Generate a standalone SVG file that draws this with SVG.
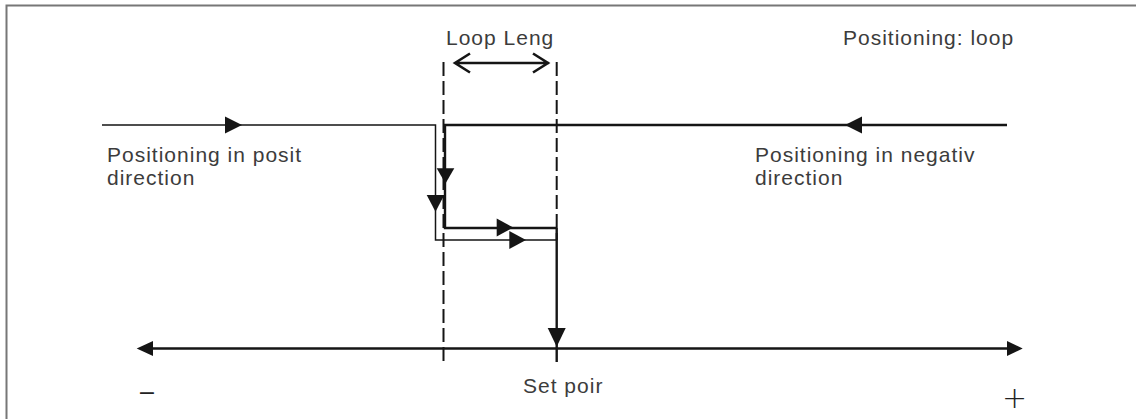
<svg xmlns="http://www.w3.org/2000/svg" width="1136" height="419" viewBox="0 0 1136 419">
<style>
.lbl{font-family:"Liberation Sans",Arial,sans-serif;font-size:21px;fill:#3c3c3c;letter-spacing:1px}
.thin{fill:none;stroke:#151515;stroke-width:1.5}
.thick{fill:none;stroke:#151515;stroke-width:2.4}
.dash{fill:none;stroke:#151515;stroke-width:2;stroke-dasharray:14 5}
.ah{fill:#151515}
</style>
<rect width="1136" height="419" fill="#fff"/>
<path d="M6.5,419 V5.5 H1136" fill="none" stroke="#777" stroke-width="2"/>
<g id="connectors">
<path class="dash" d="M443.5,62 V362"/>
<path class="dash" d="M556.7,62 V240"/>
<path class="thin" d="M102,125 H435.5 V240 H556.7"/>
<path class="thick" d="M1007,125 H445 V228 H556.7"/>
<path class="thick" d="M556.7,228 V362" stroke-width="2"/>
<path class="thick" d="M145,348.5 H1015" stroke-width="2.6"/>
<path d="M455,63 H549 M470,53.5 L455,63 L470,72.5 M533,53.5 L548,63 L533,72.5" fill="none" stroke="#151515" stroke-width="2.6"/>
<polygon class="ah" points="242,125 225,116.5 225,133.5"/>
<polygon class="ah" points="845,125 862,116.5 862,133.5"/>
<polygon class="ah" points="445.5,183.5 436.7,168.3 454.3,168.3"/>
<polygon class="ah" points="435.5,211.7 426.7,195 444.3,195"/>
<polygon class="ah" points="513.3,227.5 496.7,218.5 496.7,236.5"/>
<polygon class="ah" points="526,240 509.3,231 509.3,249"/>
<polygon class="ah" points="556.7,346.7 547.7,328 565.7,328"/>
<polygon class="ah" points="136.7,348.5 153,341 153,356"/>
<polygon class="ah" points="1022.7,348.5 1007,341 1007,356"/>
</g>
<g id="loop-length"><text class="lbl" x="446" y="45">Loop Leng</text></g>
<g id="title"><text class="lbl" x="843" y="45">Positioning: loop</text></g>
<g id="pos-dir"><text class="lbl" x="107" y="162">Positioning in posit</text><text class="lbl" x="107" y="185">direction</text></g>
<g id="neg-dir"><text class="lbl" x="755" y="162">Positioning in negativ</text><text class="lbl" x="755" y="185">direction</text></g>
<g id="set-point"><text class="lbl" x="523" y="393">Set poir</text></g>
<g id="minus"><text class="lbl" x="140" y="400" style="font-size:25px;fill:#222">–</text></g>
<g id="plus"><text x="1002" y="408" style="font-family:'DejaVu Sans',sans-serif;font-size:30px;font-weight:200;fill:#222">+</text></g>
</svg>
